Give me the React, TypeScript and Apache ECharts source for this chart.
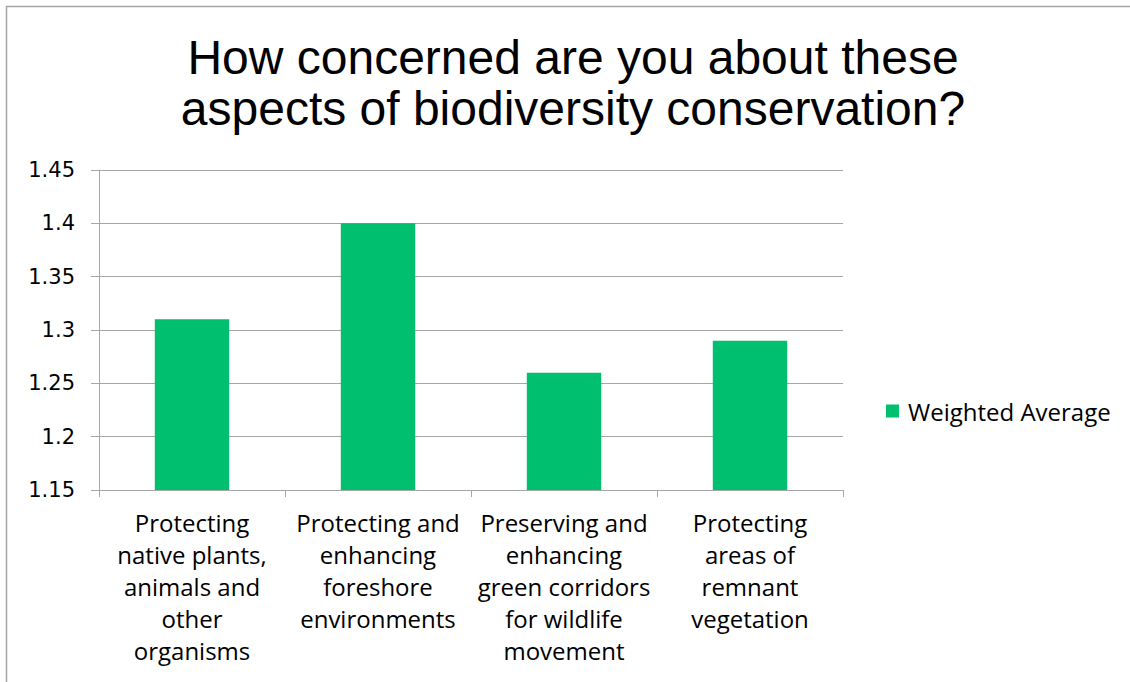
import React, { useEffect, useRef } from "react";
import * as echarts from "echarts";

const titleLines = ["How concerned are you about these", "aspects of biodiversity conservation?"];
const categories = [
  "Protecting\nnative plants,\nanimals and\nother\norganisms",
  "Protecting and\nenhancing\nforeshore\nenvironments",
  "Preserving and\nenhancing\ngreen corridors\nfor wildlife\nmovement",
  "Protecting\nareas of\nremnant\nvegetation",
];
const seriesName = "Weighted Average";
const values = [1.31, 1.4, 1.26, 1.29];
const yMin = 1.15;
const yMax = 1.45;
const yStep = 0.05;

export default function App() {
  const ref = useRef<HTMLDivElement>(null);
  useEffect(() => {
    if (!ref.current) return;
    const chart = echarts.init(ref.current, null, { renderer: "svg" });
    chart.setOption({
      animation: false,
      backgroundColor: "#ffffff",
      graphic: [
        {
          type: "rect",
          shape: { x: 6.5, y: 6.5, width: 1200, height: 800 },
          style: { fill: "none", stroke: "#a6a6a6", lineWidth: 1.5 },
          silent: true,
        },
        {
          type: "text",
          x: 573,
          y: 57,
          style: {
            text: titleLines[0],
            font: '48px "Liberation Sans", Arial, sans-serif',
            fill: "#000000",
            textAlign: "center",
            textVerticalAlign: "middle",
          },
        },
        {
          type: "text",
          x: 573,
          y: 108,
          style: {
            text: titleLines[1],
            font: '48px "Liberation Sans", Arial, sans-serif',
            fill: "#000000",
            textAlign: "center",
            textVerticalAlign: "middle",
          },
        },
      ],
      legend: {
        show: true,
        data: [seriesName],
        left: 881,
        top: 394,
        itemWidth: 13,
        itemHeight: 13,
        itemGap: 8,
        icon: "rect",
        textStyle: {
          fontSize: 24,
          color: "#000000",
          fontFamily: '"Open Sans", "Liberation Sans", sans-serif',
          padding: [0, 0, 0, 4],
        },
      },
      grid: { left: 99, right: 287, top: 170, bottom: 192, containLabel: false },
      xAxis: {
        type: "category",
        data: categories,
        axisLine: { show: true, lineStyle: { color: "#a6a6a6", width: 1 } },
        axisTick: { show: true, length: 7, lineStyle: { color: "#a6a6a6" } },
        axisLabel: {
          interval: 0,
          color: "#000000",
          fontSize: 24,
          lineHeight: 32,
          margin: 16,
          fontFamily: '"Open Sans", "Liberation Sans", sans-serif',
          align: "center",
        },
      },
      yAxis: {
        type: "value",
        min: yMin,
        max: yMax,
        interval: yStep,
        axisLine: { show: true, lineStyle: { color: "#a6a6a6", width: 1 } },
        axisTick: { show: true, length: 8, lineStyle: { color: "#a6a6a6" } },
        splitLine: { show: true, lineStyle: { color: "#a6a6a6", width: 1 } },
        axisLabel: {
          color: "#000000",
          fontSize: 21,
          margin: 24,
          fontFamily: '"DejaVu Sans", "Liberation Sans", sans-serif',
          formatter: (v: number) => String(parseFloat(v.toFixed(2))),
        },
      },
      series: [
        {
          name: seriesName,
          type: "bar",
          data: values,
          barWidth: "40%",
          itemStyle: { color: "#00bf6f" },
        },
      ],
    });
    return () => chart.dispose();
  }, []);
  return (
    <div
      ref={ref}
      style={{ position: "absolute", left: 0, top: 0, width: 1130, height: 682 }}
    />
  );
}
